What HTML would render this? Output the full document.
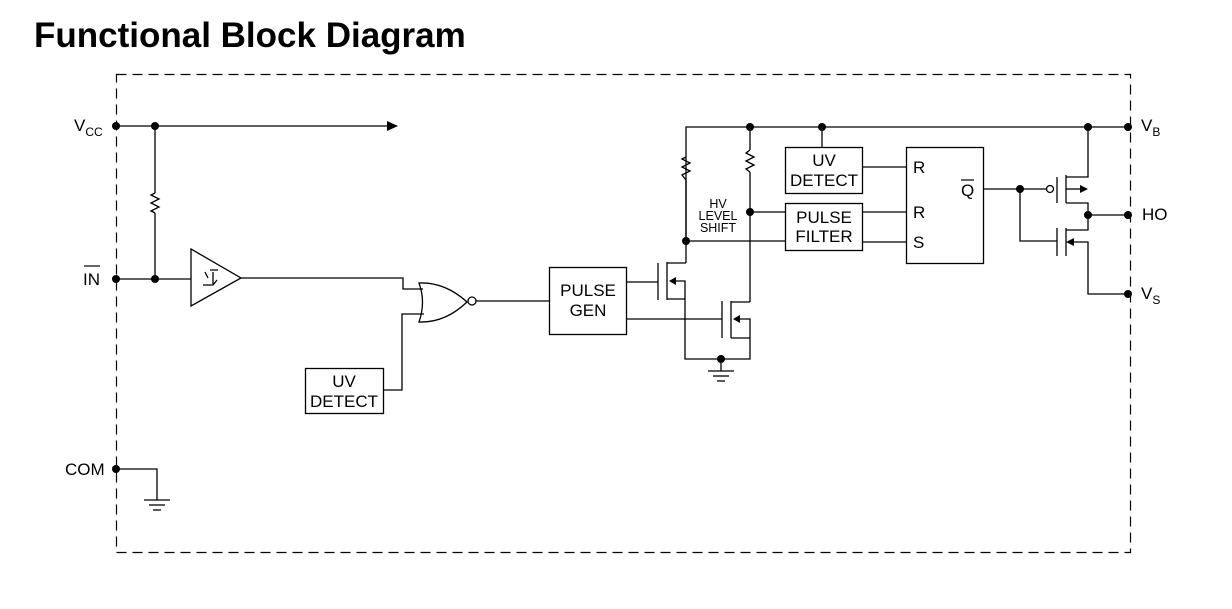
<!DOCTYPE html>
<html><head><meta charset="utf-8"><style>
html,body{margin:0;padding:0;background:#fff;}
svg{display:block;font-family:"Liberation Sans",Arial,sans-serif;}
</style></head><body>
<svg width="1232" height="609" viewBox="0 0 1232 609" xmlns="http://www.w3.org/2000/svg">
<text x="34" y="47" font-size="35" font-weight="bold" fill="#000">Functional Block Diagram</text>
<rect x="116.5" y="74.5" width="1014" height="478" fill="none" stroke="#000" stroke-width="1.2" stroke-dasharray="10,6"/>
<g stroke="#000" stroke-width="1.3" fill="none">
<line x1="116" y1="126" x2="390" y2="126"/>
<line x1="155" y1="126" x2="155" y2="193"/>
<polyline points="155,193 151,195 159,199 151,203 159,207 151,211 155,213"/>
<line x1="155" y1="213" x2="155" y2="279"/>
<line x1="116" y1="279" x2="191" y2="279"/>
<polygon points="191,249 191,306 241,278"/>
<path d="M203,285 h10 l4,-5 M210,270 h8 M205,272 l3,6 M213,272 v12"/>
<polyline points="241,278 403,278 403,289 423,289"/>
<polyline points="383,390 402,390 402,314 424,314"/>
<path d="M419,283 Q426,302 419,322 Q445,323 467,302 Q445,282 419,283 Z"/>
<circle cx="472" cy="301" r="4"/>
<line x1="476" y1="301" x2="549" y2="301"/>
<rect x="305.5" y="368.5" width="78" height="45"/>
<rect x="549.5" y="267.5" width="77" height="67"/>
<polyline points="116,469 157,469 157,500"/>
<line x1="144" y1="500" x2="170" y2="500"/><line x1="149" y1="505" x2="165" y2="505"/><line x1="153" y1="510" x2="161" y2="510"/>
<polyline points="686,241 686,127 1128,127"/>
<polyline points="686,157 682,159 690,163 682,167 690,171 682,175 686,180"/>
<line x1="750" y1="127" x2="750" y2="150"/>
<polyline points="750,150 746,153 754,157 746,161 754,165 746,169 750,172"/>
<line x1="750" y1="172" x2="750" y2="302"/>
<line x1="686" y1="180" x2="686" y2="263"/>
<line x1="822" y1="127" x2="822" y2="147"/>
<rect x="785.5" y="147.5" width="77" height="46"/>
<rect x="785.5" y="203.5" width="77" height="47"/>
<line x1="750" y1="212" x2="785" y2="212"/>
<line x1="686" y1="241" x2="785" y2="241"/>
<line x1="862" y1="167" x2="906" y2="167"/>
<line x1="862" y1="212" x2="906" y2="212"/>
<line x1="862" y1="242" x2="906" y2="242"/>
<rect x="906.5" y="147.5" width="77" height="116"/>
<line x1="627" y1="282" x2="658" y2="282"/>
<line x1="658" y1="263" x2="658" y2="300"/>
<line x1="667" y1="262" x2="667" y2="300"/>
<polyline points="667,263 686,263"/>
<polyline points="667,299 685,299"/>
<polyline points="672,281 685,281 685,359 750,359 750,319 736,319"/>
<line x1="627" y1="319" x2="722" y2="319"/>
<line x1="722" y1="301" x2="722" y2="338"/>
<line x1="731" y1="301" x2="731" y2="338"/>
<polyline points="731,302 750,302"/>
<polyline points="731,338 750,338"/>
<line x1="721" y1="359" x2="721" y2="371"/>
<line x1="708" y1="371" x2="734" y2="371"/><line x1="713" y1="376" x2="729" y2="376"/><line x1="717" y1="381" x2="725" y2="381"/>
<line x1="983" y1="189" x2="1046" y2="189"/>
<circle cx="1050" cy="189" r="3.5"/>
<line x1="1057" y1="177" x2="1057" y2="203"/>
<line x1="1066" y1="175" x2="1066" y2="203"/>
<polyline points="1066,177 1088,177 1088,127"/>
<line x1="1066" y1="189" x2="1080" y2="189"/>
<polyline points="1066,203 1088,203 1088,230 1066,230"/>
<line x1="1088" y1="215" x2="1128" y2="215"/>
<polyline points="1020,189 1020,241 1057,241"/>
<line x1="1057" y1="228" x2="1057" y2="256"/>
<line x1="1066" y1="228" x2="1066" y2="256"/>
<polyline points="1072,242 1088,242 1088,294 1128,294"/>
</g>
<g fill="#000">
<polygon points="387,121 387,131 398,126"/>
<polygon points="1088,189 1080,185 1080,193"/>
<polygon points="1066,242 1074,238 1074,246"/>
<polygon points="669,281 676,277 676,285"/>
<polygon points="733,319 740,315 740,323"/>
<circle cx="116" cy="126" r="4"/><circle cx="155" cy="126" r="4"/>
<circle cx="116" cy="279" r="4"/><circle cx="155" cy="279" r="4"/>
<circle cx="116" cy="469" r="4"/>
<circle cx="750" cy="127" r="4"/><circle cx="822" cy="127" r="4"/>
<circle cx="750" cy="212" r="4"/><circle cx="686" cy="241" r="4"/>
<circle cx="721" cy="359" r="4"/>
<circle cx="1088" cy="127" r="4"/><circle cx="1128" cy="127" r="4"/>
<circle cx="1020" cy="189" r="4"/>
<circle cx="1088" cy="215" r="4"/><circle cx="1128" cy="215" r="4"/>
<circle cx="1128" cy="294" r="4"/>
</g>
<g font-size="17" fill="#000">
<text x="74" y="131">V<tspan font-size="12" dy="5">CC</tspan></text>
<text x="83" y="285">IN</text>
<line x1="84" y1="266" x2="100" y2="266" stroke="#000" stroke-width="1.2"/>
<text x="65" y="475">COM</text>
<text x="1141" y="131">V<tspan font-size="12" dy="5">B</tspan></text>
<text x="1142" y="220">HO</text>
<text x="1141" y="299">V<tspan font-size="12" dy="5">S</tspan></text>
<text x="344" y="387" text-anchor="middle">UV</text>
<text x="344" y="407" text-anchor="middle">DETECT</text>
<text x="588" y="296" text-anchor="middle">PULSE</text>
<text x="588" y="316" text-anchor="middle">GEN</text>
<text x="824" y="166" text-anchor="middle">UV</text>
<text x="824" y="186" text-anchor="middle">DETECT</text>
<text x="824" y="223" text-anchor="middle">PULSE</text>
<text x="824" y="242" text-anchor="middle">FILTER</text>
<text x="913" y="173">R</text>
<text x="913" y="218">R</text>
<text x="913" y="248">S</text>
<text x="961" y="196">Q</text>
<line x1="961" y1="180" x2="974" y2="180" stroke="#000" stroke-width="1.2"/>
</g>
<g font-size="12.5" fill="#000" text-anchor="middle">
<text x="718" y="208">HV</text>
<text x="718" y="220">LEVEL</text>
<text x="718" y="232">SHIFT</text>
</g>
</svg>
</body></html>
